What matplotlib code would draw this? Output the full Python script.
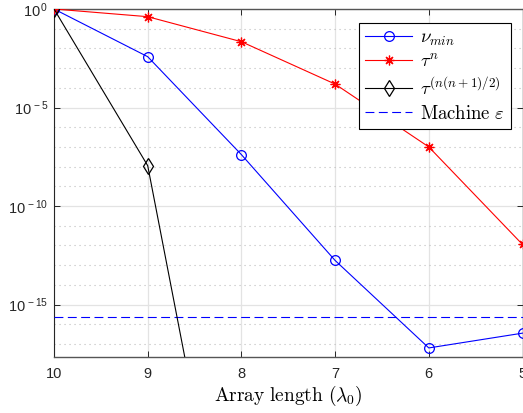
import numpy as np
import matplotlib
matplotlib.use("Agg")
import matplotlib.pyplot as plt
from matplotlib.ticker import FixedLocator, FuncFormatter, NullFormatter

plt.rcParams['mathtext.fontset'] = 'custom'
plt.rcParams['mathtext.rm'] = 'Liberation Sans'
plt.rcParams['mathtext.it'] = 'Liberation Sans:italic'
plt.rcParams['mathtext.bf'] = 'Liberation Sans:bold'
plt.rcParams['font.family'] = ['Liberation Sans', 'DejaVu Sans']

# ---- data ----
array_length = [10, 9, 8, 7, 6, 5]
nu_min_log10 = [0.0, -2.42, -7.39, -12.76, -17.2, -16.45]
tau_n_log10 = [0.0, -0.39, -1.66, -3.81, -7.0, -11.95]
tau_tri_x = [10, 9, 8]
tau_tri_log10 = [0.0, -7.95, -32.5]
machine_eps = 2.220446049250313e-16
xtick_vals = [10, 9, 8, 7, 6, 5]
ytick_vals = [1e0, 1e-5, 1e-10, 1e-15]

nu_min = [10.0 ** v for v in nu_min_log10]
tau_n = [10.0 ** v for v in tau_n_log10]
tau_tri = [10.0 ** v for v in tau_tri_log10]

W, H = 523, 413
fig = plt.figure(figsize=(W / 100, H / 100), dpi=100)
left, right, top, bottom = 54, 522.5, 9, 357
ax = fig.add_axes([left / W, 1 - bottom / H, (right - left) / W, (bottom - top) / H])

lw = 0.8
ax.plot(array_length, nu_min, color='#0000ff', lw=lw, marker='o', ms=7,
        mfc='none', mec='#0000ff', mew=0.9, label=r'$\nu_{min}$', zorder=5)
ax.plot(array_length, tau_n, color='#ff0000', lw=lw, marker=(8, 2, 0), ms=7,
        mec='#ff0000', mew=0.9, label=r'$\tau^n$', zorder=5)
ax.plot(tau_tri_x, tau_tri, color='black', lw=lw, marker='d', ms=8,
        mfc='none', mec='black', mew=0.9, label=r'$\tau^{(n(n+1)/2)}$', zorder=5)
ax.axhline(machine_eps, color='#0000ff', lw=lw, ls=(0, (8, 4)),
           label=r'$\mathrm{Machine}\ \varepsilon$', zorder=4)

ax.set_yscale('log')
ax.set_xlim(10, 5)
ax.set_ylim(10 ** -17.66, 1.0)

ax.xaxis.set_major_locator(FixedLocator(xtick_vals))
ax.set_xticklabels([str(v) for v in xtick_vals])
ax.yaxis.set_major_locator(FixedLocator(ytick_vals))
ax.yaxis.set_major_formatter(FuncFormatter(
    lambda v, p: r'$10^{\,%d}$' % int(round(np.log10(v)))))
ax.yaxis.set_minor_locator(FixedLocator([10.0 ** k for k in range(-17, 0)]))
ax.yaxis.set_minor_formatter(NullFormatter())

ax.grid(True, which='major', axis='both', color='#e3e3e3', lw=0.9, ls='-', zorder=0)
ax.grid(True, which='minor', axis='y', color='#bdbdbd', lw=0.8, ls=(0, (1, 3.5)), zorder=0)
ax.set_axisbelow(True)

ax.tick_params(which='major', direction='in', length=4, width=0.7,
               colors='#262626', labelsize=10.5, pad=7, top=True, right=True)
ax.tick_params(axis='y', which='major', pad=4)
ax.tick_params(which='minor', length=0)
for s in ['left']:
    ax.spines[s].set_color('#262626')
    ax.spines[s].set_linewidth(0.8)
for s in ['top', 'bottom', 'right']:
    ax.spines[s].set_color('#555555')
    ax.spines[s].set_linewidth(1.0)

ax.set_xlabel(r'$\mathrm{Array\ length\ (\lambda_0)}$', fontsize=14,
              math_fontfamily='cm', labelpad=2)

leg = ax.legend(loc='upper right', bbox_to_anchor=(0.9755, 0.96),
                borderaxespad=0, fontsize=13.5, frameon=True, fancybox=False,
                framealpha=1, edgecolor='black', handlelength=2.5,
                labelspacing=0.3, borderpad=0.35, handletextpad=0.4)
leg.get_frame().set_linewidth(0.8)
for t in leg.get_texts():
    t.set_math_fontfamily('cm')

fig.savefig('out.png', dpi=100)
